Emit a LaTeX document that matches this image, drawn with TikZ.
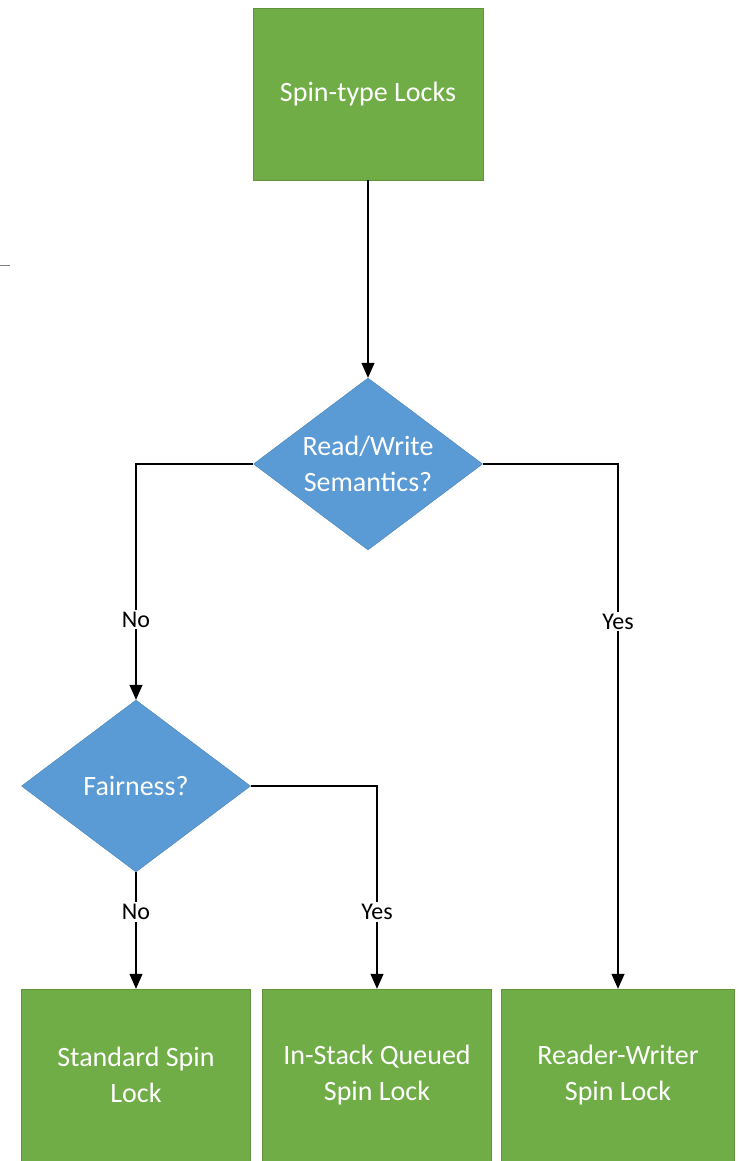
\documentclass[tikz,border=0pt]{standalone}
\usepackage{fontspec}
\setmainfont{Carlito}
\usetikzlibrary{arrows.meta,shapes.geometric}
\definecolor{lgreen}{HTML}{70AD47}
\definecolor{lblue}{HTML}{5B9BD5}
\begin{document}
\begin{tikzpicture}[x=1pt,y=-1pt,
  box/.style={fill=lgreen,draw=lgreen!85!black,line width=0.4pt,minimum width=230pt,minimum height=172pt,inner sep=0pt,text=white,font=\fontsize{28}{36}\selectfont,align=center},
  dec/.style={diamond,fill=lblue,draw=lblue!85!black,line width=0.4pt,minimum width=229pt,minimum height=172pt,inner sep=0pt,aspect=1.33,text=white,font=\fontsize{28}{36}\selectfont,align=center},
  conn/.style={line width=1.3pt,black},
  arr/.style={conn,-{Triangle[width=13pt,length=15pt]}},
  lbl/.style={fill=white,inner sep=2pt,font=\fontsize{24}{28}\selectfont}]
\useasboundingbox (0,0) rectangle (739,1161);
\draw[gray,line width=1pt] (0,265.5) -- (10,265.5);
\node[box] (top) at (368,94) {Spin-type Locks};
\node[dec] (rw) at (368,464) {Read/Write\\Semantics?};
\node[dec] (fair) at (136,786) {Fairness?};
\node[box,minimum width=229pt] (std) at (136,1075) {Standard Spin\\Lock};
\node[box,minimum width=229pt] (isq) at (377,1075) {In-Stack Queued\\Spin Lock};
\node[box,minimum width=233pt] (rwl) at (618,1075) {Reader-Writer\\Spin Lock};
\draw[arr] (top.south) -- (rw.north);
\draw[arr] (rw.west) -| node[lbl,pos=0.83] (no1) {No} (fair.north);
\draw[arr] (rw.east) -| node[lbl,pos=0.65] (yes1) {Yes} (rwl.north);
\draw[arr] (fair.south) -- node[lbl,pos=0.34] (no2) {No} (std.north);
\draw[arr] (fair.east) -| node[lbl,pos=0.81] (yes2) {Yes} (isq.north);
\end{tikzpicture}
\end{document}
